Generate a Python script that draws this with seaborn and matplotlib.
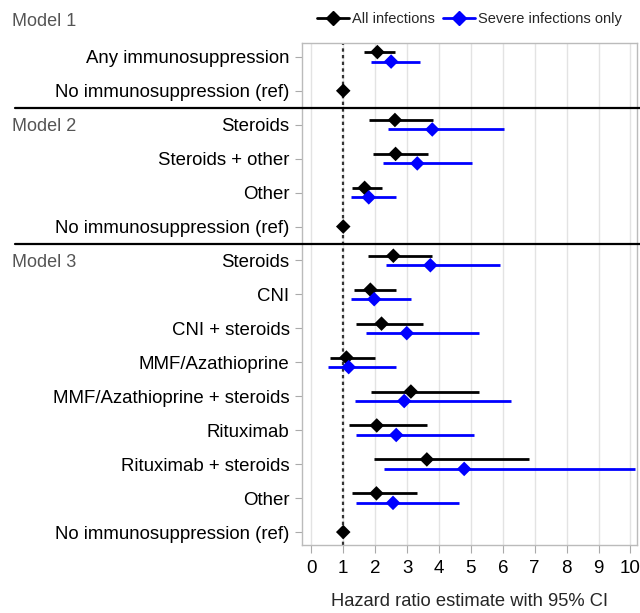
import numpy as np
import pandas as pd
import matplotlib
matplotlib.use("Agg")
import matplotlib.pyplot as plt
from matplotlib.lines import Line2D
import seaborn as sns

# rows, top to bottom
labels = ["Any immunosuppression", "No immunosuppression (ref)",
          "Steroids", "Steroids + other", "Other", "No immunosuppression (ref)",
          "Steroids", "CNI", "CNI + steroids", "MMF/Azathioprine",
          "MMF/Azathioprine + steroids", "Rituximab", "Rituximab + steroids",
          "Other", "No immunosuppression (ref)"]
is_ref = [False, True, False, False, False, True, False, False, False, False,
          False, False, False, False, True]

# all infections: HR, lower, upper
all_hr = [2.07, 1.0, 2.62, 2.64, 1.67, 1.0, 2.57, 1.85, 2.20, 1.10, 3.12, 2.05, 3.62, 2.04, 1.0]
all_lo = [1.66, np.nan, 1.80, 1.92, 1.28, np.nan, 1.79, 1.34, 1.40, 0.60, 1.86, 1.18, 1.95, 1.28, np.nan]
all_hi = [2.63, np.nan, 3.82, 3.65, 2.21, np.nan, 3.77, 2.64, 3.50, 2.00, 5.24, 3.62, 6.82, 3.32, np.nan]

# severe infections only
sev_hr = [2.50, np.nan, 3.79, 3.32, 1.80, np.nan, 3.73, 1.97, 2.99, 1.17, 2.91, 2.66, 4.79, 2.56, np.nan]
sev_lo = [1.88, np.nan, 2.41, 2.25, 1.24, np.nan, 2.35, 1.24, 1.71, 0.51, 1.37, 1.40, 2.29, 1.40, np.nan]
sev_hi = [3.39, np.nan, 6.05, 5.02, 2.65, np.nan, 5.90, 3.12, 5.27, 2.65, 6.25, 5.10, 10.15, 4.62, np.nan]

models = ["Model 1", "Model 2", "Model 3"]
model_rows = [-1.05, 2.05, 6.05]
separators = [1.5, 5.5]

series_names = ["All infections", "Severe infections only"]
colors = {"All infections": "black", "Severe infections only": "#0000ff"}

rows = np.arange(len(labels))
off = 0.14
recs = []
for i in rows:
    y_all = i if is_ref[i] else i - off
    recs.append(dict(series=series_names[0], y=y_all, hr=all_hr[i], lo=all_lo[i], hi=all_hi[i]))
    recs.append(dict(series=series_names[1], y=i + off, hr=sev_hr[i], lo=sev_lo[i], hi=sev_hi[i]))
df = pd.DataFrame(recs).dropna(subset=["hr"])

sns.set_theme(style="white")
plt.rcParams["font.family"] = ["Liberation Sans", "DejaVu Sans"]

fig = plt.figure(figsize=(6.4, 6.13), dpi=100)
ax = fig.add_axes([0.472, 0.111, 0.523, 0.819])

for x in range(0, 11):
    ax.axvline(x, color="#e3e3e3", lw=1, zorder=0)
ax.axvline(1, color="#333333", lw=1.6, ls=(0, (1.5, 1.5)), zorder=1)

ci = df.dropna(subset=["lo"])
for s in series_names:
    d = ci[ci.series == s]
    ax.hlines(d.y, d.lo, d.hi, color=colors[s], lw=2, zorder=2)

sns.scatterplot(data=df, x="hr", y="y", hue="series", palette=colors,
                marker="D", s=55, linewidth=0, legend=False, zorder=3, ax=ax)

ax.set_xlim(-0.29, 10.2)
ax.set_ylim(14.38, -0.41)
ax.set_xticks(range(0, 11))
ax.set_yticks(rows)
ax.set_yticklabels(labels)
ax.tick_params(axis="y", labelsize=13.4, length=5, width=0.8, color="#aaaaaa",
               left=True, pad=4, labelcolor="black")
ax.tick_params(axis="x", labelsize=13.5, length=6, width=0.8, color="#aaaaaa",
               bottom=True, pad=5, labelcolor="black")
ax.set_xlabel("Hazard ratio estimate with 95% CI", fontsize=13.2, labelpad=11)
ax.set_ylabel("")
for sp in ax.spines.values():
    sp.set_color("#bbbbbb")
    sp.set_linewidth(1)

# model separators and headers
tr = ax.get_yaxis_transform()
for yy in separators:
    ax.plot([-0.857, 1.01], [yy, yy], color="black", lw=1.6, transform=tr,
            clip_on=False, zorder=5)
for name, yy in zip(models, model_rows):
    ax.text(-0.866, yy, name, transform=tr, ha="left", va="center",
            fontsize=13, color="#555555")

handles = [Line2D([], [], color=colors[s], lw=2, marker="D", markersize=7)
           for s in series_names]
ax.legend(handles, series_names, loc="center", bbox_to_anchor=(0.5, 1.048),
          ncol=2, frameon=False, fontsize=10.5, handlelength=2.2,
          handletextpad=0.2, columnspacing=0.6, borderaxespad=0)

fig.savefig("out.png", dpi=100)
